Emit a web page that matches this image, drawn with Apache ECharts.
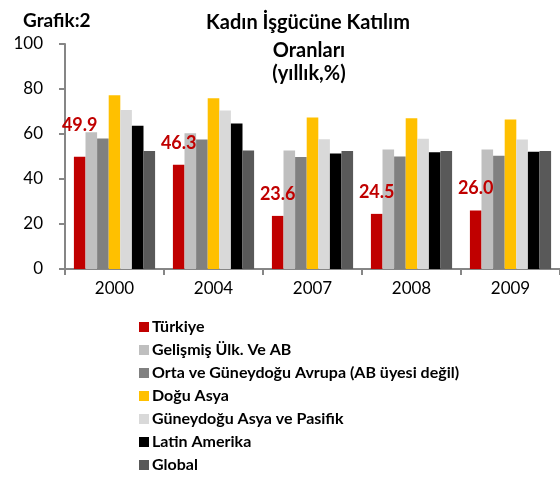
<!DOCTYPE html>
<html>
<head>
<meta charset="utf-8">
<script src="https://cdn.jsdelivr.net/npm/echarts@6/dist/echarts.min.js"></script>
<style>
  html, body { margin: 0; padding: 0; background: #fff; }
  #chart { width: 560px; height: 478px; }
</style>
</head>
<body>
<div id="chart"></div>
<script>
// yıllar
const years = ['2000', '2004', '2007', '2008', '2009'];
// seri isimleri
const names = [
  'Türkiye',
  'Gelişmiş Ülk. Ve AB',
  'Orta ve Güneydoğu Avrupa (AB üyesi değil)',
  'Doğu Asya',
  'Güneydoğu Asya ve Pasifik',
  'Latin Amerika',
  'Global'
];
const turkiye = [49.9, 46.3, 23.6, 24.5, 26.0];
const gelismis = [60.8, 60.3, 52.7, 53.1, 53.1];
const ortaGuneydogu = [58.0, 57.6, 49.8, 50.0, 50.3];
const doguAsya = [77.2, 75.9, 67.3, 67.0, 66.5];
const guneydoguAsya = [70.7, 70.4, 57.7, 57.9, 57.6];
const latinAmerika = [63.7, 64.7, 51.3, 51.9, 52.1];
const globalRate = [52.5, 52.7, 52.5, 52.5, 52.5];
const yTicks = [0, 20, 40, 60, 80, 100];

const colors = ['#C00000', '#BFBFBF', '#808080', '#FFC000', '#D9D9D9', '#000000', '#595959'];
const allData = [turkiye, gelismis, ortaGuneydogu, doguAsya, guneydoguAsya, latinAmerika, globalRate];
const font = 'Lato, "Open Sans", sans-serif';

const chart = echarts.init(document.getElementById('chart'));

let series = [];
names.forEach((name, i) => {
  let obj = {
    name: name,
    type: 'bar',
    barGap: '0%',
    barCategoryGap: '18%',
    data: allData[i],
    itemStyle: { color: colors[i] }
  };
  // sadece Türkiye için etiket, 2000 etiketi biraz yukarıda
  if (i === 0) {
    obj.data = allData[i].map((v, k) => k === 0 ? { value: v, label: { offset: [0, -10] } } : v);
    obj.label = {
      show: true,
      position: 'top',
      distance: 13,
      color: '#C00000',
      fontFamily: font,
      fontWeight: 'bold',
      fontSize: 18,
      formatter: p => p.value.toFixed(1)
    };
  }
  series.push(obj);
});

const option = {
  animation: false,
  color: colors,
  title: [
    {
      text: 'Grafik:2',
      left: 18, top: 6,
      textStyle: { fontFamily: font, fontWeight: 'bold', fontSize: 19, color: '#000' }
    },
    {
      text: 'Kadın İşgücüne Katılım',
      left: 303, top: 8, textAlign: 'center',
      textStyle: { fontFamily: font, fontWeight: 'bold', fontSize: 20, color: '#000' }
    },
    {
      text: 'Oranları\n(yıllık,%)',
      left: 304, top: 34, textAlign: 'center',
      textStyle: { fontFamily: font, fontWeight: 'bold', fontSize: 20, color: '#000', lineHeight: 23 }
    }
  ],
  legend: {
    orient: 'vertical',
    left: 139,
    top: 318,
    bottom: 0,
    padding: 0,
    itemWidth: 10,
    itemHeight: 10,
    itemGap: 5,
    icon: 'rect',
    data: names,
    textStyle: { fontFamily: font, fontWeight: 'bold', fontSize: 16, lineHeight: 18, color: '#000', padding: [0, 0, 0, -2] }
  },
  grid: { left: 65, top: 44, right: 0, bottom: 209 },
  xAxis: {
    type: 'category',
    data: years,
    axisLine: { lineStyle: { color: '#868686', width: 2 } },
    axisTick: { show: true, length: 6, lineStyle: { color: '#868686', width: 2 } },
    axisLabel: { fontFamily: font, fontSize: 17, color: '#000', margin: 11 }
  },
  yAxis: {
    type: 'value',
    min: yTicks[0],
    max: yTicks[yTicks.length - 1],
    interval: 20,
    axisLine: { show: true, lineStyle: { color: '#868686', width: 2 } },
    axisTick: { show: true, length: 6, lineStyle: { color: '#868686', width: 2 } },
    splitLine: { show: false },
    axisLabel: { fontFamily: font, fontSize: 17, color: '#000', margin: 22 }
  },
  series: series
};

chart.setOption(option);
</script>
</body>
</html>
